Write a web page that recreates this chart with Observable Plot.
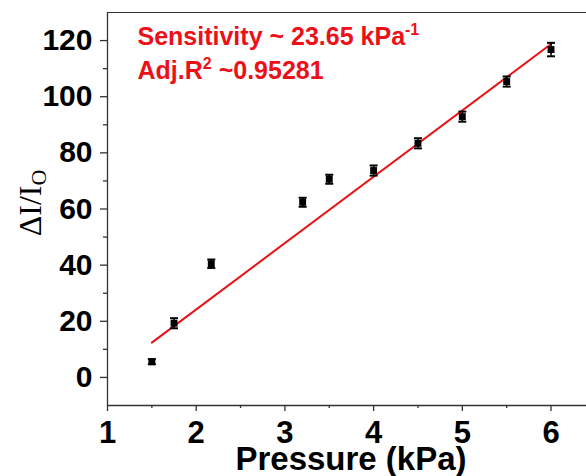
<!DOCTYPE html>
<html>
<head>
<meta charset="utf-8">
<script src="https://cdn.jsdelivr.net/npm/d3@7"></script>
<script src="https://cdn.jsdelivr.net/npm/@observablehq/plot@0.6"></script>
<style>
  body { margin: 0; background: #fff; }
</style>
</head>
<body>
<div id="chart"></div>
<script>
// Data
const pressure = [1.5, 1.75, 2.17, 3.2, 3.5, 4.0, 4.5, 5.0, 5.5, 6.0];
const response = [5.6, 19.3, 40.5, 62.4, 70.6, 73.7, 83.4, 92.9, 105.4, 116.8];
const errors   = [0.9, 1.8, 1.5, 1.6, 1.6, 1.8, 1.8, 1.8, 1.8, 2.4];

// Linear fit line endpoints (as drawn)
const fitX = [1.5, 6.0];
const fitY = [12.4, 118.8];

const xTicks = [1, 2, 3, 4, 5, 6];
const xMinor = [1.5, 2.5, 3.5, 4.5, 5.5];
const yTicks = [0, 20, 40, 60, 80, 100, 120];
const yMinor = [10, 30, 50, 70, 90, 110];

const annotationLine1 = "Sensitivity ~ 23.65 kPa";
const annotationSup1 = "-1";
const annotationLine2 = "Adj.R";
const annotationSup2 = "2";
const annotationRest2 = " ~0.95281";
const xTitle = "Pressure (kPa)";
const yTitleMain = "ΔI/I";
const yTitleSub = "O";

const rows = pressure.map((p, i) => ({p, v: response[i], lo: response[i] - errors[i], hi: response[i] + errors[i]}));
const fit = fitX.map((x, i) => ({x, y: fitY[i]}));

const cap = {
  draw(ctx, size) {
    const r = Math.sqrt(size / Math.PI);
    ctx.moveTo(-r, 0);
    ctx.lineTo(r, 0);
  }
};

const red = "#ec1018";
const axisColor = "#333";
const sans = "'Liberation Sans', Arial, sans-serif";

const plot = Plot.plot({
  width: 586,
  height: 476,
  marginLeft: 107,
  marginRight: 0,
  marginTop: 12,
  marginBottom: 71,
  style: {fontFamily: sans, background: "#fff", color: "#000"},
  x: {domain: [1, 6.4], label: null},
  y: {domain: [-10, 130], label: null},
  marks: [
    // frame lines
    Plot.ruleY([130], {stroke: axisColor, strokeWidth: 1.2}),
    Plot.ruleY([-10], {stroke: axisColor, strokeWidth: 1.3}),
    Plot.ruleX([1], {stroke: axisColor, strokeWidth: 1.3}),
    // axes
    Plot.axisY(yTicks, {tickSize: 7, tickPadding: 8, fontSize: 30, fontWeight: "bold", fontFamily: sans, stroke: axisColor, strokeWidth: 1.3, label: null, tickFormat: d => String(d)}),
    Plot.axisY(yMinor, {tickSize: 4, tickFormat: () => "", stroke: axisColor, strokeWidth: 1.3, label: null}),
    Plot.axisX(xTicks, {tickSize: 6, tickPadding: 9, fontSize: 31, fontWeight: "bold", fontFamily: sans, stroke: axisColor, strokeWidth: 1.3, label: null, tickFormat: d => String(d)}),
    Plot.axisX(xMinor, {tickSize: 3, tickFormat: () => "", stroke: axisColor, strokeWidth: 1.3, label: null}),
    // fit line
    Plot.line(fit, {x: "x", y: "y", stroke: red, strokeWidth: 2}),
    // error bars
    Plot.ruleX(rows, {x: "p", y1: "lo", y2: "hi", stroke: "#000", strokeWidth: 1.6}),
    Plot.dot(rows, {x: "p", y: "lo", symbol: cap, r: 4, stroke: "#000", strokeWidth: 2, fill: "none"}),
    Plot.dot(rows, {x: "p", y: "hi", symbol: cap, r: 4, stroke: "#000", strokeWidth: 2, fill: "none"}),
    // markers
    Plot.dot(rows, {x: "p", y: "v", symbol: "square", r: 3.9, fill: "#000", stroke: "none"}),
    // annotations
    Plot.text([annotationLine1], {frameAnchor: "top-left", dx: 30, dy: 32, lineAnchor: "bottom", textAnchor: "start", text: d => d, fill: red, fontSize: 25, fontWeight: "bold", fontFamily: sans}),
    Plot.text([annotationLine2], {frameAnchor: "top-left", dx: 30, dy: 66, lineAnchor: "bottom", textAnchor: "start", text: d => d, fill: red, fontSize: 25, fontWeight: "bold", fontFamily: sans}),
    // axis titles
    Plot.text([xTitle], {frameAnchor: "bottom", dx: 4, dy: 64, lineAnchor: "bottom", text: d => d, fill: "#000", fontSize: 33, fontWeight: "bold", fontFamily: sans}),
    Plot.text([yTitleMain], {frameAnchor: "left", dx: -67, dy: -6, rotate: -90, lineAnchor: "bottom", textAnchor: "middle", text: d => d, fill: "#000", fontSize: 32, fontFamily: "'Liberation Serif', 'Times New Roman', serif"})
  ]
});

// superscripts / subscripts as real text
d3.select(plot).selectAll("text").each(function () {
  const t = d3.select(this);
  const s = this.textContent;
  if (s === annotationLine1) {
    t.append("tspan").attr("dy", -10).attr("font-size", 16).text(annotationSup1);
  } else if (s === annotationLine2) {
    t.append("tspan").attr("dy", -10).attr("font-size", 16).text(annotationSup2);
    t.append("tspan").attr("dy", 10).text(annotationRest2);
  } else if (s === yTitleMain) {
    t.attr("text-anchor", "middle");
    t.append("tspan").attr("dy", 5).attr("font-size", 22).text(yTitleSub);
  }
});

document.getElementById("chart").appendChild(plot);
</script>
</body>
</html>
